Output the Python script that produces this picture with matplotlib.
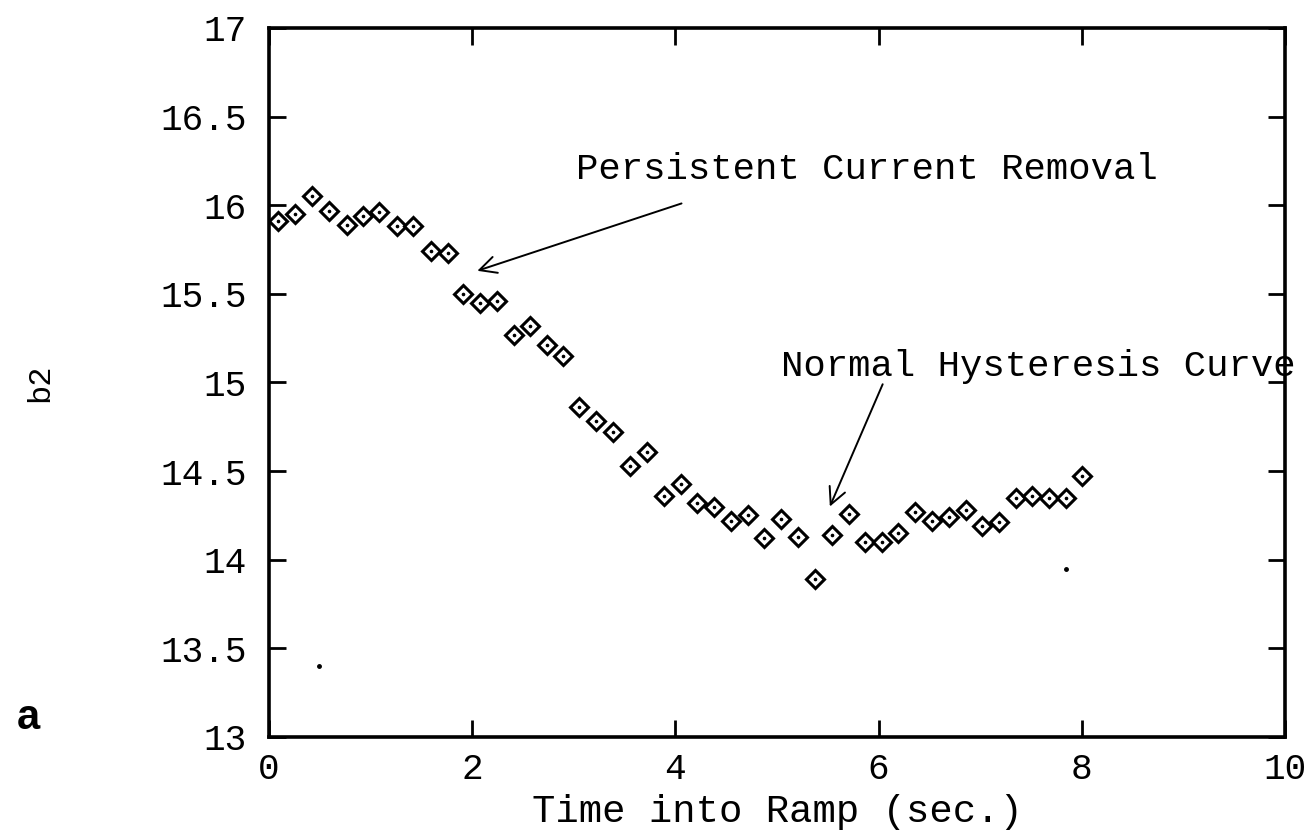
import matplotlib
matplotlib.use("Agg")
from matplotlib import pyplot as plt

# Data (b2 vs time into ramp)
time_s = [0.086, 0.256, 0.424, 0.594, 0.766, 0.926, 1.087, 1.258, 1.420, 1.593,
          1.757, 1.911, 2.079, 2.239, 2.407, 2.571, 2.736, 2.897, 3.054, 3.215,
          3.386, 3.550, 3.721, 3.889, 4.056, 4.214, 4.377, 4.549, 4.712, 4.874,
          5.041, 5.205, 5.372, 5.539, 5.706, 5.865, 6.030, 6.195, 6.363, 6.529,
          6.693, 6.857, 7.022, 7.182, 7.350, 7.514, 7.678, 7.842, 8.000]
b2 = [15.91, 15.95, 16.05, 15.97, 15.89, 15.94, 15.96, 15.88, 15.88, 15.74,
      15.73, 15.50, 15.45, 15.46, 15.27, 15.32, 15.21, 15.15, 14.86, 14.78,
      14.72, 14.53, 14.61, 14.36, 14.43, 14.32, 14.30, 14.22, 14.25, 14.12,
      14.23, 14.13, 13.89, 14.14, 14.26, 14.10, 14.10, 14.15, 14.27, 14.22,
      14.24, 14.28, 14.19, 14.21, 14.35, 14.36, 14.35, 14.35, 14.47]

# two stray specks on the scan
stray_t = [0.493, 7.842]
stray_b2 = [13.40, 13.95]

x_ticks = [0, 2, 4, 6, 8, 10]
y_ticks = [13, 13.5, 14, 14.5, 15, 15.5, 16, 16.5, 17]
y_tick_labels = ["13", "13.5", "14", "14.5", "15", "15.5", "16", "16.5", "17"]

mono = "Liberation Mono"

fig = plt.figure(figsize=(13.08, 8.35), dpi=100)
ax = fig.add_axes([0.2057, 0.1174, 0.7767, 0.8491])

ax.plot(time_s, b2, linestyle="none", marker="D", markersize=9.5,
        markerfacecolor="white", markeredgecolor="black", markeredgewidth=2.2)
ax.plot(time_s, b2, linestyle="none", marker="o", markersize=1.6,
        color="black")
ax.plot(stray_t, stray_b2, linestyle="none", marker="o", markersize=2.5,
        color="black")

ax.set_xlim(0, 10)
ax.set_ylim(13, 17)
ax.set_xticks(x_ticks)
ax.set_yticks(y_ticks)
ax.set_yticklabels(y_tick_labels)

ax.tick_params(direction="in", length=12, width=2.0, top=True, right=True,
               labelsize=26)
ax.tick_params(axis="y", pad=16)
ax.tick_params(axis="x", pad=11)
for lab in ax.get_xticklabels() + ax.get_yticklabels():
    lab.set_family(mono)
for sp in ax.spines.values():
    sp.set_linewidth(2.6)

ax.set_xlabel("Time into Ramp (sec.)", family=mono, fontsize=28, labelpad=5)
ax.set_ylabel("b2", family=mono, fontsize=23, labelpad=76)

arrow = dict(arrowstyle="->", color="black", lw=1.4, mutation_scale=30,
             shrinkA=0, shrinkB=0)
ax.annotate("", xy=(2.05, 15.63), xytext=(4.06, 16.01), arrowprops=arrow)
ax.text(3.02, 16.20, "Persistent Current Removal", family=mono, fontsize=26.8,
        va="center", ha="left")
ax.annotate("", xy=(5.52, 14.30), xytext=(6.04, 14.99), arrowprops=arrow)
ax.text(5.04, 15.09, "Normal Hysteresis Curve", family=mono, fontsize=26.8,
        va="center", ha="left", clip_on=False)

fig.text(0.013, 0.127, "a", family=["Liberation Sans", "DejaVu Sans"],
         fontweight="bold", fontsize=30)

fig.savefig("out.png", dpi=100)
